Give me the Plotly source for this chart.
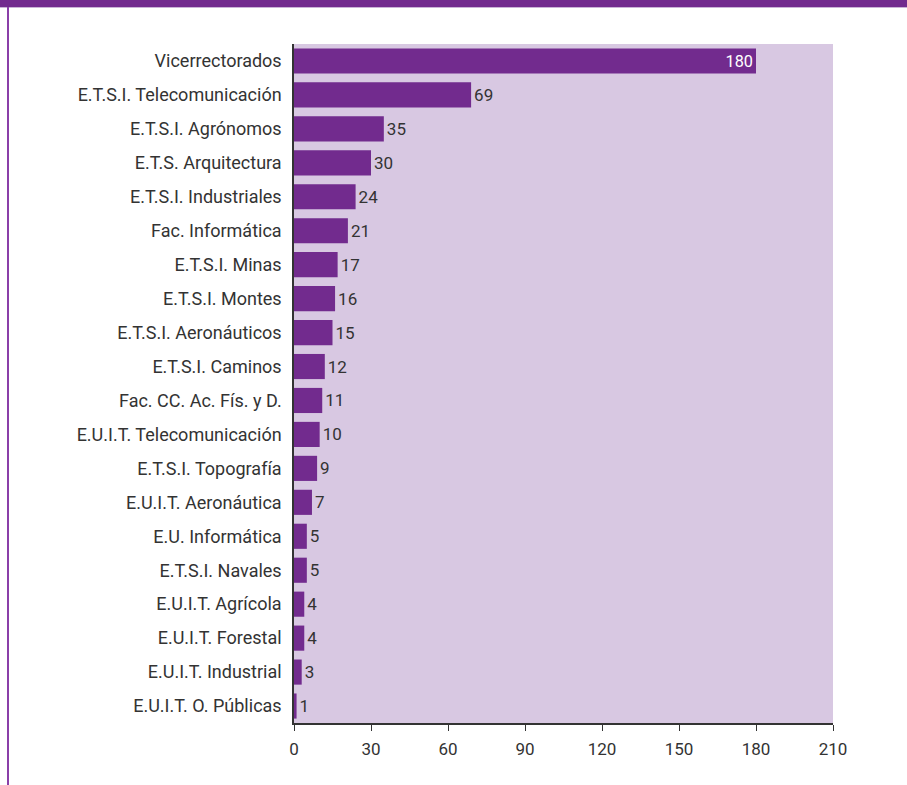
import plotly.graph_objects as go

# centros / unidades y número de registros
categories = [
    "Vicerrectorados", "E.T.S.I. Telecomunicación", "E.T.S.I. Agrónomos",
    "E.T.S. Arquitectura", "E.T.S.I. Industriales", "Fac. Informática",
    "E.T.S.I. Minas", "E.T.S.I. Montes", "E.T.S.I. Aeronáuticos",
    "E.T.S.I. Caminos", "Fac. CC. Ac. Fís. y D.", "E.U.I.T. Telecomunicación",
    "E.T.S.I. Topografía", "E.U.I.T. Aeronáutica", "E.U. Informática",
    "E.T.S.I. Navales", "E.U.I.T. Agrícola", "E.U.I.T. Forestal",
    "E.U.I.T. Industrial", "E.U.I.T. O. Públicas",
]
values = [180, 69, 35, 30, 24, 21, 17, 16, 15, 12, 11, 10, 9, 7, 5, 5, 4, 4, 3, 1]
x_ticks = [0, 30, 60, 90, 120, 150, 180, 210]

PURPLE = "#722B8E"
BG = "#D8C8E2"
TXT = "#333333"
FONT = "Roboto, sans-serif"

W, H = 907, 785
ML, MR, MT, MB = 294, 74, 44, 62

# texto dentro sólo para la barra más larga
positions = ["inside" if v == max(values) else "outside" for v in values]
text_colors = ["white" if v == max(values) else TXT for v in values]

fig = go.Figure(go.Bar(
    y=categories,
    x=values,
    orientation="h",
    marker=dict(color=PURPLE, line=dict(width=0)),
    text=values,
    textposition=positions,
    insidetextanchor="end",
    textfont=dict(family=FONT, size=17, color=text_colors),
    cliponaxis=False,
))

# helpers to place decoration in pixels
def px_x(p):
    return (p - ML) / (W - ML - MR)

def px_y(p):
    return (H - MB - p) / (H - MT - MB)

fig.update_layout(
    width=W, height=H,
    margin=dict(l=ML, r=MR, t=MT, b=MB, autoexpand=False),
    paper_bgcolor="white",
    plot_bgcolor=BG,
    bargap=0.26,
    showlegend=False,
    font=dict(family=FONT, size=16, color=TXT),
    shapes=[
        dict(type="rect", xref="paper", yref="paper",
             x0=px_x(0), x1=px_x(W), y0=px_y(0), y1=px_y(7),
             fillcolor=PURPLE, line=dict(width=0), layer="above"),
        dict(type="line", xref="paper", yref="paper",
             x0=px_x(0), x1=px_x(W), y0=px_y(7.5), y1=px_y(7.5),
             line=dict(color="#C9B3D6", width=1)),
        dict(type="line", xref="paper", yref="paper",
             x0=px_x(8), x1=px_x(8), y0=px_y(7), y1=px_y(H),
             line=dict(color="#8A3FA8", width=2)),
    ],
)

fig.update_xaxes(
    range=[0, 210],
    tickvals=x_ticks,
    showgrid=False,
    zeroline=False,
    showline=True,
    linecolor=TXT,
    linewidth=1.5,
    ticks="outside",
    ticklen=6,
    tickcolor=TXT,
    ticklabelstandoff=4,
    tickfont=dict(family=FONT, size=17, color=TXT),
)
fig.update_yaxes(
    autorange="reversed",
    showgrid=False,
    zeroline=False,
    showline=True,
    linecolor=TXT,
    linewidth=1.5,
    layer="below traces",
    ticks="",
    ticklabelstandoff=7,
    tickfont=dict(family=FONT, size=18, color=TXT),
)

fig.write_html("out.html", config={"displayModeBar": False},
               post_script="document.body.style.margin='0px';")
